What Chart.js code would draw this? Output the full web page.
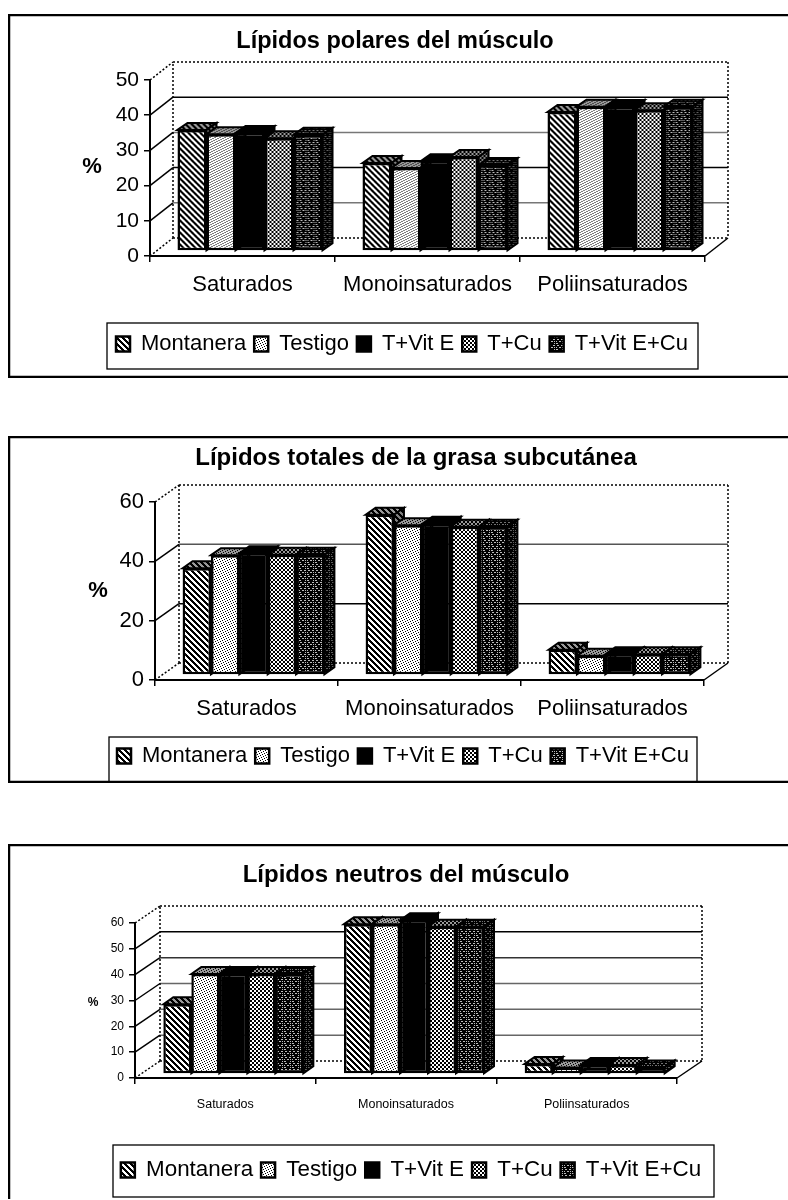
<!DOCTYPE html>
<html>
<head>
<meta charset="utf-8">
<title>Lípidos</title>
<script src="https://cdn.jsdelivr.net/npm/chart.js@4"></script>
<style>
    html, body { margin: 0; padding: 0; background: #fff; width: 788px; height: 1200px; overflow: hidden; }
    canvas { position: absolute; left: 8px; }
    #polares { top: 14px; }
    #totales { top: 436px; }
    #neutros { top: 844px; }
</style>
</head>
<body>
<canvas id="polares" width="780" height="364"></canvas>
<canvas id="totales" width="780" height="347"></canvas>
<canvas id="neutros" width="780" height="356"></canvas>
<script>
    // Data
    const categories = ['Saturados', 'Monoinsaturados', 'Poliinsaturados'];
    const seriesNames = ['Montanera', 'Testigo', 'T+Vit E', 'T+Cu', 'T+Vit E+Cu'];

    const ticksPolares = [0, 10, 20, 30, 40, 50];
    const polaresMontanera = [34.4, 25, 39.5];
    const polaresTestigo = [33.2, 23.6, 41];
    const polaresVitE = [33.5, 25.5, 40.9];
    const polaresCu = [32, 26.7, 40];
    const polaresVitECu = [33, 24.4, 41];

    const ticksTotales = [0, 20, 40, 60];
    const totalesMontanera = [36, 54, 8.5];
    const totalesTestigo = [40.4, 50.5, 6.5];
    const totalesVitE = [41, 51, 7];
    const totalesCu = [40.5, 50, 7];
    const totalesVitECu = [40.5, 50, 7];

    const ticksNeutros = [0, 10, 20, 30, 40, 50, 60];
    const neutrosMontanera = [27, 58, 3.9];
    const neutrosTestigo = [38.7, 58, 2.5];
    const neutrosVitE = [38.7, 59.5, 3.5];
    const neutrosCu = [38.7, 57, 3.5];
    const neutrosVitECu = [38.7, 57, 2.5];

    const FONT = '"Liberation Sans", Arial, sans-serif';

    // Fill patterns, one string per row of pixels
    function makePattern(rows, dark, light) {
        const tile = document.createElement('canvas');
        tile.width = rows[0].length;
        tile.height = rows.length;
        const c = tile.getContext('2d');
        c.fillStyle = light;
        c.fillRect(0, 0, tile.width, tile.height);
        c.fillStyle = dark;
        rows.forEach((row, y) => {
            [...row].forEach((p, x) => {
                if (p === '#') c.fillRect(x, y, 1, 1);
            });
        });
        return c.createPattern(tile, 'repeat');
    }

    const seriesFills = [
        makePattern(['###...', '.###..', '..###.', '...###', '#...##', '##...#'], '#000', '#fff'),
        makePattern(['#....', '...#.', '.#...', '....#', '..#..'], '#000', '#fff'),
        '#000',
        makePattern(['..##', '..##', '##..', '##..'], '#000', '#fff'),
        makePattern(['########', '#..##..#', '########', '.#.#.##.', '########', '##.#..##'], '#000', '#bbb')
    ];

    // Walls, gridlines and the sides of the bars, all taken from the scales
    const box3d = {
        id: 'box3d',
        beforeDraw(chart, args, opts) {
            const { ctx, width, height } = chart;
            ctx.save();
            ctx.strokeStyle = '#000';
            ctx.lineWidth = 2.5;
            ctx.beginPath();
            ctx.moveTo(width, 1);
            ctx.lineTo(1, 1);
            ctx.lineTo(1, height - 1);
            if (opts.closeBottom) ctx.lineTo(width, height - 1);
            ctx.stroke();
            ctx.restore();
        },
        afterLayout(chart, args, opts) {
            // title and legend go where the picture has them
            const title = chart.titleBlock;
            title.left = opts.titleX - 350;
            title.right = opts.titleX + 350;
            title.top = opts.titleY - title.height / 2;
            const legend = chart.legend;
            const pad = legend.options.labels.padding;
            const size = legend.options.labels.font.size;
            // wider than the frame, otherwise the last item drops to a second row
            legend.left = opts.legendCenter - 380;
            legend.right = opts.legendCenter + 380;
            legend.top = opts.legendTextY - pad - size / 2;
            legend.bottom = legend.top + legend.height + 10;
        },
        beforeDatasetsDraw(chart, args, opts) {
            const { ctx, chartArea: area, scales } = chart;
            const wx = opts.wall[0], wy = opts.wall[1];
            ctx.save();
            ctx.strokeStyle = '#000';

            // gridlines on back wall and side wall
            scales.y.ticks.forEach((t, i) => {
                const y = scales.y.getPixelForValue(t.value);
                const edge = i === 0 || i === scales.y.ticks.length - 1;
                ctx.lineWidth = 1.5;
                ctx.setLineDash(edge ? [2, 2] : []);
                ctx.strokeStyle = '#000';
                ctx.beginPath();
                ctx.moveTo(area.left, y);
                ctx.lineTo(area.left + wx, y - wy);
                ctx.stroke();
                ctx.strokeStyle = edge ? '#000' : opts.gridColors[i];
                ctx.beginPath();
                ctx.moveTo(area.left + wx, y - wy);
                ctx.lineTo(area.right + wx, y - wy);
                ctx.stroke();
            });

            ctx.strokeStyle = '#000';
            ctx.setLineDash([2, 2]);
            ctx.beginPath();
            ctx.moveTo(area.left + wx, area.bottom - wy);
            ctx.lineTo(area.left + wx, area.top - wy);
            ctx.moveTo(area.right + wx, area.top - wy);
            ctx.lineTo(area.right + wx, area.bottom - wy);
            ctx.stroke();
            ctx.setLineDash([]);
            ctx.beginPath();
            ctx.moveTo(area.right, area.bottom);
            ctx.lineTo(area.right + wx, area.bottom - wy);
            ctx.stroke();
            ctx.restore();

            // bars stand a little behind the front axis
            ctx.save();
            ctx.translate(opts.shift[0], opts.shift[1]);
            const dx = opts.depth[0], dy = opts.depth[1];
            chart.getSortedVisibleDatasetMetas().forEach((meta) => {
                meta.data.forEach((bar) => {
                    const { x, y, base, width } = bar.getProps(['x', 'y', 'base', 'width']);
                    const l = x - width / 2, r = x + width / 2;
                    const fill = meta.controller.getDataset().backgroundColor;
                    const poly = (pts, shade) => {
                        ctx.beginPath();
                        pts.forEach((p, i) => (i ? ctx.lineTo(p[0], p[1]) : ctx.moveTo(p[0], p[1])));
                        ctx.closePath();
                        ctx.fillStyle = fill;
                        ctx.fill();
                        ctx.fillStyle = shade;
                        ctx.fill();
                        ctx.lineWidth = 2;
                        ctx.strokeStyle = '#000';
                        ctx.stroke();
                    };
                    poly([[l, y], [l + dx, y - dy], [r + dx, y - dy], [r, y]], 'rgba(0,0,0,0.4)');
                    poly([[r, y], [r + dx, y - dy], [r + dx, base - dy], [r, base]], 'rgba(0,0,0,0.5)');
                });
            });
        },
        afterDatasetsDraw(chart) {
            chart.ctx.restore();
        },
        afterDraw(chart, args, opts) {
            const { ctx } = chart;
            const b = opts.legendBox;
            ctx.save();
            ctx.strokeStyle = '#000';
            ctx.lineWidth = 1.3;
            ctx.strokeRect(b.left, b.top, b.right - b.left, b.bottom - b.top);
            // % next to the axis, it is not rotated in the picture
            ctx.fillStyle = '#000';
            ctx.font = 'bold ' + opts.unitSize + 'px ' + FONT;
            ctx.textAlign = 'center';
            ctx.textBaseline = 'middle';
            ctx.fillText('%', opts.unitX, opts.unitY);
            ctx.restore();
        }
    };

    function drawChart(id, cfg) {
        const canvas = document.getElementById(id);
        const H = canvas.height, W = canvas.width;
        const legendPad = 8;
        const legendH = legendPad * 2 + cfg.legendSize + 10;
        const titleH = cfg.titleSize * 1.2;
        const xH = 40, yW = cfg.plot.left - 2;

        const chart = new Chart(canvas, {
            type: 'bar',
            plugins: [box3d],
            data: {
                labels: categories,
                datasets: seriesNames.map((name, i) => ({
                    label: name,
                    data: cfg.series[i],
                    backgroundColor: seriesFills[i],
                    borderColor: '#000',
                    borderWidth: 2.5,
                    borderSkipped: false,
                    clip: false,
                    barPercentage: 1,
                    categoryPercentage: cfg.groupWidth
                }))
            },
            options: {
                responsive: false,
                animation: false,
                events: [],
                layout: {
                    padding: {
                        top: cfg.plot.top - titleH,
                        left: cfg.plot.left - yW,
                        right: W - cfg.plot.right,
                        bottom: H - cfg.plot.bottom - xH - legendH
                    }
                },
                plugins: {
                    title: {
                        display: true,
                        text: cfg.title,
                        color: '#000',
                        padding: 0,
                        font: { size: cfg.titleSize, weight: 'bold', family: FONT }
                    },
                    legend: {
                        position: 'bottom',
                        labels: {
                            boxWidth: 14,
                            boxHeight: 15,
                            padding: legendPad,
                            color: '#000',
                            font: { size: cfg.legendSize, family: FONT }
                        }
                    },
                    tooltip: { enabled: false },
                    box3d: cfg.box
                },
                scales: {
                    x: {
                        afterFit: (s) => { s.height = xH; },
                        border: { color: '#000', width: 2 },
                        grid: { drawOnChartArea: false, tickLength: 6, color: '#000', lineWidth: 1.5 },
                        ticks: {
                            color: '#000',
                            padding: cfg.xPad,
                            maxRotation: 0,
                            minRotation: 0,
                            autoSkip: false,
                            font: { size: cfg.xSize, family: FONT }
                        }
                    },
                    y: {
                        min: cfg.ticks[0],
                        max: cfg.ticks[cfg.ticks.length - 1],
                        afterFit: (s) => { s.width = yW; },
                        border: { color: '#000', width: 2 },
                        grid: { drawOnChartArea: false, tickLength: 6, color: '#000', lineWidth: 1.5 },
                        ticks: {
                            stepSize: cfg.ticks[1] - cfg.ticks[0],
                            color: '#000',
                            padding: 5,
                            font: { size: cfg.ySize, family: FONT }
                        }
                    }
                }
            }
        });

        // title and legend take a bit more room than worked out above, so correct once
        const pad = chart.options.layout.padding;
        const area = chart.chartArea;
        chart.options.layout.padding = {
            top: pad.top + cfg.plot.top - area.top,
            left: pad.left + cfg.plot.left - area.left,
            right: pad.right + area.right - cfg.plot.right,
            bottom: pad.bottom + area.bottom - cfg.plot.bottom
        };
        chart.update();
        return chart;
    }

    // Charts
    drawChart('polares', {
        title: 'Lípidos polares del músculo',
        titleSize: 23.5,
        series: [polaresMontanera, polaresTestigo, polaresVitE, polaresCu, polaresVitECu],
        ticks: ticksPolares,
        plot: { left: 142, right: 697, top: 66, bottom: 242 },
        groupWidth: 0.784,
        legendSize: 22,
        xSize: 22,
        ySize: 21,
        xPad: 10,
        box: {
            closeBottom: true,
            titleX: 387, titleY: 28,
            legendBox: { left: 99, right: 690, top: 309, bottom: 355 },
            legendCenter: 394, legendTextY: 330,
            unitX: 84, unitY: 153, unitSize: 22,
            wall: [23, 18],
            shift: [7.5, -5],
            depth: [10, 7],
            gridColors: ['#000', '#777', '#000', '#777', '#000', '#000']
        }
    });

    drawChart('totales', {
        title: 'Lípidos totales de la grasa subcutánea',
        titleSize: 24,
        series: [totalesMontanera, totalesTestigo, totalesVitE, totalesCu, totalesVitECu],
        ticks: ticksTotales,
        plot: { left: 147, right: 696, top: 66, bottom: 244 },
        groupWidth: 0.775,
        legendSize: 22,
        xSize: 22,
        ySize: 22,
        xPad: 10,
        box: {
            closeBottom: true,
            titleX: 408, titleY: 22,
            legendBox: { left: 101, right: 689, top: 301, bottom: 346 },
            legendCenter: 395, legendTextY: 320,
            unitX: 90, unitY: 155, unitSize: 22,
            wall: [24, 17],
            shift: [7, -5],
            depth: [10, 7],
            gridColors: ['#000', '#000', '#555', '#000']
        }
    });

    drawChart('neutros', {
        title: 'Lípidos neutros del músculo',
        titleSize: 24,
        series: [neutrosMontanera, neutrosTestigo, neutrosVitE, neutrosCu, neutrosVitECu],
        ticks: ticksNeutros,
        plot: { left: 127, right: 669, top: 79, bottom: 234 },
        groupWidth: 0.775,
        legendSize: 22.4,
        xSize: 12.5,
        ySize: 12,
        xPad: 13,
        box: {
            closeBottom: false,
            titleX: 398, titleY: 31,
            legendBox: { left: 105, right: 706, top: 301, bottom: 353 },
            legendCenter: 403, legendTextY: 326,
            unitX: 85, unitY: 159, unitSize: 12,
            wall: [25, 17],
            shift: [8, -4],
            depth: [10, 7],
            gridColors: ['#000', '#666', '#666', '#666', '#333', '#000', '#000']
        }
    });
</script>
</body>
</html>
